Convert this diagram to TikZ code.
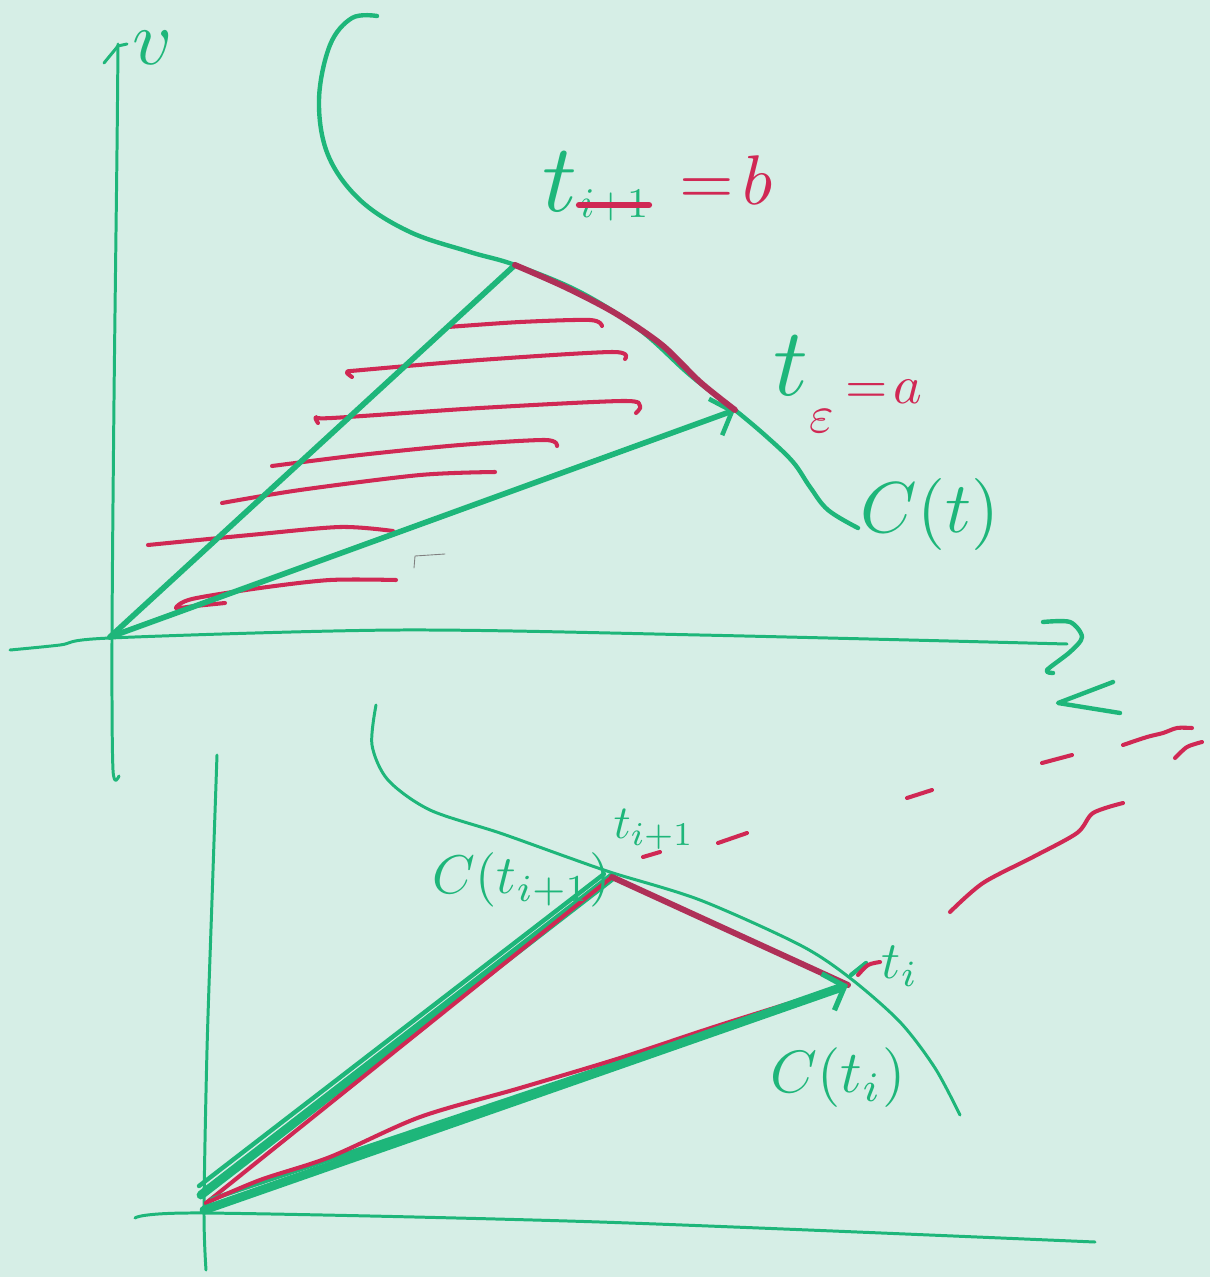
\documentclass[tikz,border=0pt]{standalone}
\usetikzlibrary{arrows.meta}
\definecolor{board}{RGB}{214,238,230}
\definecolor{gink}{RGB}{30,182,122}
\definecolor{rink}{RGB}{208,40,84}
\definecolor{rdark}{RGB}{175,48,88}
\begin{document}
\begin{tikzpicture}[x=0.02cm,y=-0.02cm,line cap=round,line join=round,
  gthin/.style={draw=gink,line width=1.7pt},
  gline/.style={draw=gink,line width=2.5pt},
  gchord/.style={draw=gink,line width=3.2pt},
  gthick/.style={draw=gink,line width=5pt},
  rline/.style={draw=rink,line width=2.3pt},
  redge/.style={draw=rdark,line width=3.4pt},
  barb/.style={-{Straight Barb[length=10pt,width=22pt,line width=2.6pt]}},
  lbl/.style={inner sep=0pt,text=gink,font=\fontsize{10}{10}\selectfont},
  rlbl/.style={inner sep=0pt,text=rink,font=\fontsize{10}{10}\selectfont}]
\fill[board] (0,0) rectangle (1210,1277);
\useasboundingbox (0,0) rectangle (1210,1277);

% ---------- key points ----------
\coordinate (O1) at (110,637);
\coordinate (P1) at (515,265);
\coordinate (Q1) at (735,410);
\coordinate (O2) at (204,1210);
\coordinate (O2g) at (201,1195);
\coordinate (O2r) at (206,1203);
\coordinate (P2) at (612,877);
\coordinate (Q2) at (848,985);

% ================= TOP DIAGRAM =================
% axes
\draw[gthin] plot[smooth] coordinates {(119,776) (113,770) (112,640) (114,400) (117,150) (118,44)};
\draw[gthin] (104,63) -- (118,46) -- (127,44);
\node[lbl,scale=4.4] (vlab) at (153,48) {$v$};
\draw[gthin] plot[smooth] coordinates {(10,650) (60,645) (110,638) (400,630) (700,635) (1067,644)};
\draw[gline] plot[smooth] coordinates {(1043,622) (1070,622) (1082,637) (1070,652) (1047,670) (1053,673)};
\draw[gline] (1113,682) -- (1058,703) -- (1120,713);

% curve C(t)
\draw[gline] plot[smooth,tension=0.6] coordinates {(377,16) (352,18) (330,45) (319,100) (328,155) (360,200) (410,232) (470,252) (P1) (580,292) (640,330) (690,375) (Q1) (767,437) (793,462) (810,487) (828,510) (858,528)};

% hatching
\draw[rline] plot[smooth] coordinates {(448,327) (520,322) (590,320) (602,326)};
\draw[rline] plot[smooth] coordinates {(352,377) (347,372) (362,370) (480,360) (612,352) (625,359)};
\draw[rline] plot[smooth] coordinates {(318,423) (316,417) (332,418) (480,408) (622,401) (640,406) (636,413)};
\draw[rline] plot[smooth] coordinates {(272,466) (360,455) (460,445) (545,440) (557,446)};
\draw[rline] plot[smooth] coordinates {(222,503) (300,490) (420,475) (495,472)};
\draw[rline] plot[smooth] coordinates {(148,545) (250,535) (340,527) (393,531)};
\draw[rline] plot[smooth] coordinates {(225,603) (195,606) (176,608) (192,599) (260,588) (330,580) (396,580)};
\draw[gray,line width=0.5pt] (414,568) -- (415,556) -- (445,554);

% chords
\draw[gchord] (O1) -- (P1);
\draw[gchord,barb] (O1) -- (Q1);
\draw[redge] plot[smooth] coordinates {(P1) (565,287) (615,313) (662,345) (700,382) (Q1)};

% labels
\node[lbl,scale=5.5] (tb) at (560,182) {$t$};
\node[lbl,scale=2.4] (sb) at (614,205) {$i{+}1$};
\draw[rink,line width=3.5pt] (sb.west) -- (sb.east);
\node[rlbl,scale=4.0] (eqb) at (726,180) {$=\!b$};
\node[lbl,scale=5.5] (ta) at (791,366) {$t$};
\node[rlbl,scale=3.0] (sa) at (822,421) {$\varepsilon$};
\node[rlbl,scale=3.1] (eqa) at (884,392) {$=\!a$};
\node[lbl,scale=4.1] (Ct) at (930,514) {$C(t)$};

% red scribbles right
\draw[rline] (1042,763) -- (1072,755);
\draw[rline] plot[smooth] coordinates {(1123,745) (1147,737) (1163,733) (1177,728) (1192,728)};
\draw[rline] plot[smooth] coordinates {(1175,758) (1187,747) (1202,742)};
\draw[rline] (907,798) -- (932,790);
\draw[rline] plot[smooth] coordinates {(950,912) (983,883) (1033,857) (1077,833) (1093,813) (1123,803)};

% ================= BOTTOM DIAGRAM =================
\draw[gthin] plot[smooth] coordinates {(217,755) (212,900) (207,1050) (204,1210) (206,1270)};
\draw[gthin] plot[smooth] coordinates {(135,1218) (204,1213) (600,1222) (1095,1242)};
\draw[gthin] plot[smooth] coordinates {(376,705) (372,745) (388,780) (430,810) (500,833) (567,857) (613,873) (700,900) (800,945) (850,978) (900,1022) (935,1068) (960,1115)};

\draw[gthick] (O2g) -- (P2);
\draw[gline] (199,1186) -- (604,874);
\draw[rline] (O2r) -- (P2);
\draw[redge] (P2) -- (Q2);
\draw[gline] (212,1199) -- (Q2);
\draw[rline] plot[smooth] coordinates {(O2r) (260,1180) (330,1157) (420,1117) (520,1088) (620,1058) (720,1025) (Q2)};
\draw[gthick,-{Straight Barb[length=10pt,width=22pt,line width=3pt]}] (O2) -- (Q2);

% labels
\node[lbl,scale=3.1] (Cti1) at (522,880) {$C(t_{i{+}1})$};
\node[lbl,scale=2.7] (ti1) at (654,829) {$t_{i{+}1}$};
\draw[rline] (643,857) -- (660,852);
\draw[rline] (718,843) -- (747,833);
\draw[gline] (851,975) -- (866,963);
\draw[rline] plot[smooth] coordinates {(858,975) (868,965) (880,962)};
\node[lbl,scale=3.0] (ti) at (900,966) {$t_i$};
\node[lbl,scale=3.4] (Cti) at (838,1078) {$C(t_i)$};
\end{tikzpicture}
\end{document}
